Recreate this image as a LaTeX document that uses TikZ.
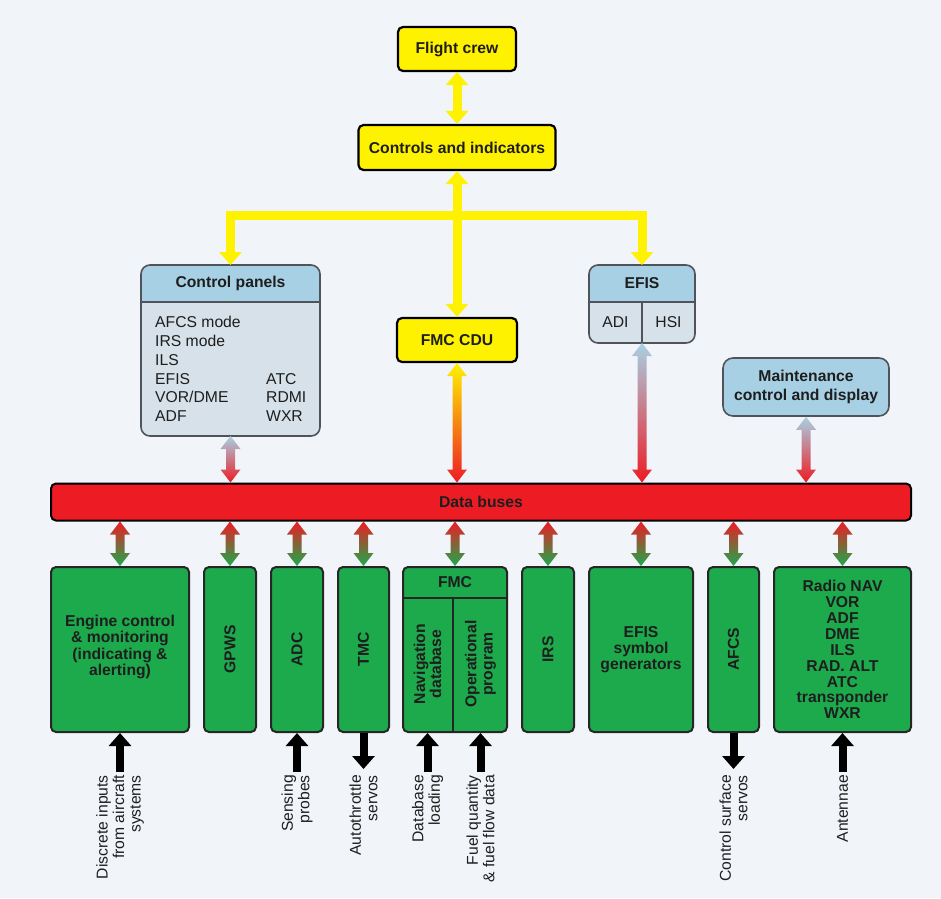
\documentclass[tikz,border=0pt]{standalone}
\usepackage{fontspec}
\setmainfont{Liberation Sans}
\usetikzlibrary{arrows.meta, positioning, calc}

\definecolor{bgcol}{RGB}{241,245,250}
\definecolor{fmsyellow}{RGB}{255,242,0}
\definecolor{busred}{RGB}{237,28,36}
\definecolor{fmsgreen}{RGB}{28,170,76}
\definecolor{panelhead}{RGB}{168,208,228}
\definecolor{panelbody}{RGB}{214,225,233}
\definecolor{edgegrey}{RGB}{80,84,90}
\definecolor{inktext}{RGB}{30,30,30}

\tikzset{
	fattip/.tip={Triangle[width=22pt,length=13pt]},
	ybox/.style={draw, line width=2.2pt, fill=fmsyellow, rounded corners=5pt},
	pbox/.style={fill=panelbody, rounded corners=9pt, outer sep=0pt},
	pframe/.style={draw=edgegrey, line width=1.6pt, rounded corners=9pt},
	pline/.style={draw=edgegrey, line width=1.6pt},
	gbox/.style={draw=black!85, line width=2pt, fill=fmsgreen, rounded corners=5pt},
	gline/.style={draw=black!85, line width=2pt},
	boldtxt/.style={font=\fontsize{15.7}{16.2}\selectfont\bfseries, align=center, text=inktext, inner sep=0pt},
	plaintxt/.style={font=\fontsize{15.7}{16.2}\selectfont, align=center, text=inktext, inner sep=0pt},
	yline/.style={draw=fmsyellow, line width=9pt},
	barrow/.style={draw=black, line width=8pt, -fattip},
	srclabel/.style={rotate=90, align=right, font=\fontsize{15.7}{16.5}\selectfont, text=inktext, inner sep=0pt}
}

% double headed shaded arrow, #1 top end, #2 bottom end
\newcommand{\busarrow}[4]{%
	\shade[top color=#3, bottom color=#4]
		let \p1=(#1), \p2=(#2) in
		(\x1,\y1) -- ++(10pt,-13pt) -- ++(-5.5pt,0pt) -- (\x1+4.5pt,\y2+13pt) -- ++(5.5pt,0pt)
		-- (\x1,\y2) -- ++(-10pt,13pt) -- ++(5.5pt,0pt) -- (\x1-4.5pt,\y1-13pt) -- ++(-5.5pt,0pt) -- cycle;%
}

\begin{document}
\begin{tikzpicture}[x=1pt, y=-1pt]
	\path[use as bounding box, fill=bgcol] (0,0) rectangle (941,898);
	
	% crew and cockpit side
	\node[ybox, minimum width=118pt, minimum height=44pt] (crew) at (457,49) {};
	\node[boldtxt] (crewtxt) at (crew) {Flight crew};
	
	\node[ybox, minimum width=197pt, minimum height=45pt] (controls) at (457,147.5) {};
	\node[boldtxt] (controlstxt) at (controls) {Controls and indicators};
	
	\node[ybox, minimum width=120pt, minimum height=44pt] (fmccdu) at (457,340) {};
	\node[boldtxt] (fmccdutxt) at (fmccdu) {FMC CDU};
	
	\node[pbox, minimum width=179pt, minimum height=171pt] (cpanels) at (230.5,350.5) {};
	\begin{scope}
		\clip (cpanels.north west) rectangle (cpanels.east |- 0,302);
		\fill[panelhead, rounded corners=9pt] (cpanels.north west) rectangle (cpanels.south east);
	\end{scope}
	\draw[pframe] (cpanels.north west) rectangle (cpanels.south east);
	\draw[pline] (cpanels.west |- 0,302) -- (cpanels.east |- 0,302);
	\node[boldtxt] (cpanelstxt) at (230.5,283.5) {Control panels};
	\node[plaintxt, align=left, anchor=west, font=\fontsize{15.7}{18.8}\selectfont] (cplist) at (155,369)
		{AFCS mode\\IRS mode\\ILS\\\makebox[111pt][l]{EFIS}ATC\\\makebox[111pt][l]{VOR/DME}RDMI\\\makebox[111pt][l]{ADF}WXR};
	
	\node[pbox, minimum width=106pt, minimum height=78pt] (efis) at (642,304) {};
	\begin{scope}
		\clip (efis.north west) rectangle (efis.east |- 0,302);
		\fill[panelhead, rounded corners=9pt] (efis.north west) rectangle (efis.south east);
	\end{scope}
	\draw[pframe] (efis.north west) rectangle (efis.south east);
	\draw[pline] (efis.west |- 0,302) -- (efis.east |- 0,302);
	\draw[pline] (efis.south |- 0,302) -- (efis.south);
	\node[boldtxt] (efistxt) at (642,283.5) {EFIS};
	\node[plaintxt] (aditxt) at (615.5,322.5) {ADI};
	\node[plaintxt] (hsitxt) at (668.5,322.5) {HSI};
	
	\node[draw=edgegrey, line width=1.6pt, fill=panelhead, rounded corners=10pt, minimum width=166pt, minimum height=58pt] (maint) at (806,387) {};
	\node[boldtxt, font=\fontsize{15.7}{18.5}\selectfont\bfseries] (mainttxt) at (maint) {Maintenance\\control and display};
	
	% data buses
	\node[draw, line width=2pt, fill=busred, rounded corners=5pt, minimum width=860pt, minimum height=37pt] (bus) at (481,502) {};
	\node[boldtxt] (bustxt) at (bus) {Data buses};
	
	% aircraft systems
	\node[gbox, minimum width=138pt, minimum height=165pt] (engine) at (120,649.5) {};
	\node[boldtxt] (enginetxt) at (120,647) {Engine control\\\& monitoring\\(indicating \&\\alerting)};
	
	\node[gbox, minimum width=52pt, minimum height=165pt] (gpws) at (230,649.5) {};
	\node[boldtxt, rotate=90] (gpwstxt) at (gpws) {GPWS};
	
	\node[gbox, minimum width=52pt, minimum height=165pt] (adc) at (297,649.5) {};
	\node[boldtxt, rotate=90] (adctxt) at (adc) {ADC};
	
	\node[gbox, minimum width=51pt, minimum height=165pt] (tmc) at (363.5,649.5) {};
	\node[boldtxt, rotate=90] (tmctxt) at (tmc) {TMC};
	
	\node[gbox, minimum width=104pt, minimum height=165pt] (fmc) at (455,649.5) {};
	\draw[gline] (fmc.west |- 0,598) -- (fmc.east |- 0,598);
	\draw[gline] (fmc.south -| 453,598) -- (453,598);
	\node[boldtxt] (fmctxt) at (455,582) {FMC};
	\node[boldtxt, rotate=90] (navdbtxt) at (427.5,664) {Navigation\\database};
	\node[boldtxt, rotate=90] (opprogtxt) at (480.5,664) {Operational\\program};
	
	\node[gbox, minimum width=52pt, minimum height=165pt] (irs) at (548,649.5) {};
	\node[boldtxt, rotate=90] (irstxt) at (irs) {IRS};
	
	\node[gbox, minimum width=104pt, minimum height=165pt] (efissg) at (641,649.5) {};
	\node[boldtxt] (efissgtxt) at (efissg) {EFIS\\symbol\\generators};
	
	\node[gbox, minimum width=51pt, minimum height=165pt] (afcs) at (733.5,649.5) {};
	\node[boldtxt, rotate=90] (afcstxt) at (afcs) {AFCS};
	
	\node[gbox, minimum width=137pt, minimum height=165pt] (radio) at (842.5,649.5) {};
	\node[boldtxt, font=\fontsize{15.7}{15.9}\selectfont\bfseries] (radiotxt) at (radio) {Radio NAV\\VOR\\ADF\\DME\\ILS\\RAD. ALT\\ATC\\transponder\\WXR};
	
	% inputs and outputs
	\node[srclabel, anchor=east] (discrete) at (120,775) {Discrete inputs\\from aircraft\\systems};
	\node[srclabel, anchor=east] (sensing) at (297,775) {Sensing\\probes};
	\node[srclabel, anchor=east] (autothr) at (363.5,775) {Autothrottle\\servos};
	\node[srclabel, anchor=east] (dbload) at (427.5,775) {Database\\loading};
	\node[srclabel, anchor=east] (fuel) at (480.5,775) {Fuel quantity\\\& fuel flow data};
	\node[srclabel, anchor=east] (ctrlsurf) at (733.5,775) {Control surface\\servos};
	\node[srclabel, anchor=east] (antennae) at (842.5,775) {Antennae};
	
	% yellow links
	\coordinate (ybar) at (457,215);
	\draw[yline, fattip-fattip] (crew) -- (controls);
	\draw[yline, fattip-fattip] (controls) -- (fmccdu);
	\draw[yline, -fattip] (ybar) -| (cpanels.north);
	\draw[yline, -fattip] (ybar) -| (efis.north);
	
	% bus links
	\busarrow{cpanels.south}{bus.north -| cpanels.south}{panelhead}{busred}
	\busarrow{fmccdu.south}{bus.north -| fmccdu.south}{fmsyellow}{busred}
	\busarrow{efis.south}{bus.north -| efis.south}{panelhead}{busred}
	\busarrow{maint.south}{bus.north -| maint.south}{panelhead}{busred}
	
	\busarrow{bus.south -| engine.north}{engine.north}{busred}{fmsgreen}
	\busarrow{bus.south -| gpws.north}{gpws.north}{busred}{fmsgreen}
	\busarrow{bus.south -| adc.north}{adc.north}{busred}{fmsgreen}
	\busarrow{bus.south -| tmc.north}{tmc.north}{busred}{fmsgreen}
	\busarrow{bus.south -| fmc.north}{fmc.north}{busred}{fmsgreen}
	\busarrow{bus.south -| irs.north}{irs.north}{busred}{fmsgreen}
	\busarrow{bus.south -| efissg.north}{efissg.north}{busred}{fmsgreen}
	\busarrow{bus.south -| afcs.north}{afcs.north}{busred}{fmsgreen}
	\busarrow{bus.south -| radio.north}{radio.north}{busred}{fmsgreen}
	
	% black io arrows
	\draw[barrow, shorten <=3pt] (discrete.east) -- (discrete.east |- engine.south);
	\draw[barrow, shorten <=3pt] (sensing.east) -- (sensing.east |- adc.south);
	\draw[barrow, shorten >=6pt] (autothr.east |- tmc.south) -- (autothr.east);
	\draw[barrow, shorten <=3pt] (dbload.east) -- (dbload.east |- fmc.south);
	\draw[barrow, shorten <=3pt] (fuel.east) -- (fuel.east |- fmc.south);
	\draw[barrow, shorten >=6pt] (ctrlsurf.east |- afcs.south) -- (ctrlsurf.east);
	\draw[barrow, shorten <=3pt] (antennae.east) -- (antennae.east |- radio.south);
\end{tikzpicture}
\end{document}
